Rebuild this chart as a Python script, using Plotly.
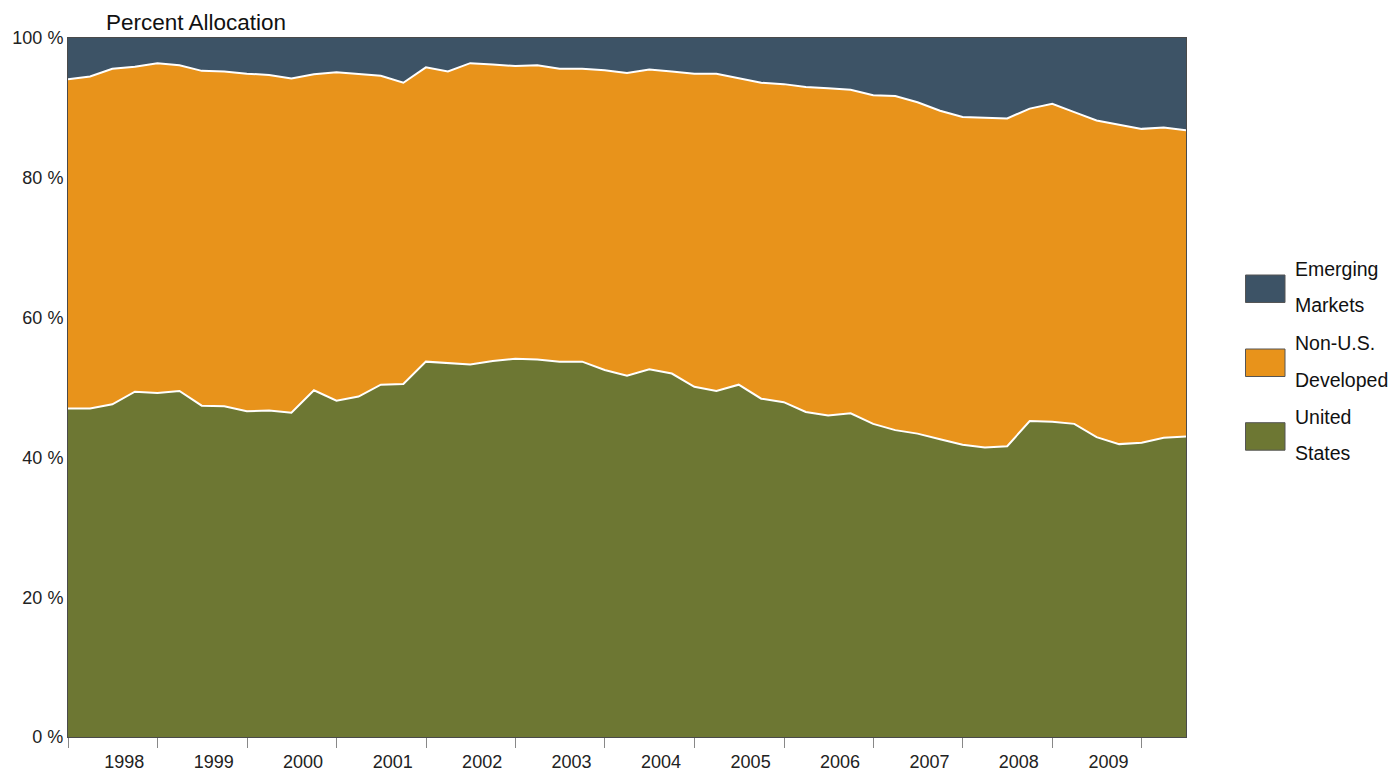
import pandas as pd
import plotly.graph_objects as go

# Quarter-end dates (Dec 1997 .. Jun 2010)
quarters = [d.strftime("%Y-%m-%d") for d in pd.date_range("1997-12-31", "2010-06-30", freq="QE")]

# Percent allocation per region
us = [47.0, 47.0, 47.6, 49.4, 49.2, 49.5, 47.4, 47.3, 46.6, 46.7, 46.4, 49.6, 48.1, 48.7, 50.4, 50.5,
      53.7, 53.5, 53.3, 53.8, 54.1, 54.0, 53.7, 53.7, 52.5, 51.7, 52.6, 52.0, 50.1, 49.5, 50.4, 48.4,
      47.9, 46.5, 46.0, 46.3, 44.8, 43.9, 43.4, 42.6, 41.8, 41.4, 41.6, 45.2, 45.1, 44.8, 42.9, 41.9,
      42.1, 42.8, 43.0]
non_us_dev = [47.1, 47.5, 48.0, 46.5, 47.2, 46.6, 47.9, 47.9, 48.3, 48.0, 47.8, 45.2, 47.0, 46.1, 44.2, 43.1,
              42.1, 41.7, 43.1, 42.4, 41.9, 42.1, 41.9, 41.9, 42.9, 43.3, 42.9, 43.2, 44.8, 45.4, 43.8, 45.2,
              45.5, 46.5, 46.8, 46.3, 47.0, 47.8, 47.4, 47.0, 46.9, 47.2, 46.9, 44.7, 45.5, 44.6, 45.3, 45.7,
              44.9, 44.4, 43.8]
emerging = [5.9, 5.5, 4.4, 4.1, 3.6, 3.9, 4.7, 4.8, 5.1, 5.3, 5.8, 5.2, 4.9, 5.2, 5.4, 6.4,
            4.2, 4.8, 3.6, 3.8, 4.0, 3.9, 4.4, 4.4, 4.6, 5.0, 4.5, 4.8, 5.1, 5.1, 5.8, 6.4,
            6.6, 7.0, 7.2, 7.4, 8.2, 8.3, 9.2, 10.4, 11.3, 11.4, 11.5, 10.1, 9.4, 10.6, 11.8, 12.4,
            13.0, 12.8, 13.2]

year_ticks = [f"{y}-01-01" for y in range(1998, 2011)]
year_labels = [str(y) for y in range(1998, 2010)] + [""]
y_ticks = [0, 20, 40, 60, 80, 100]
y_labels = ["0 %", "20 %", "40 %", "60 %", "80 %", "100 %"]

series_names = ["United States", "Non-U.S. Developed", "Emerging Markets"]
legend_lines = [["United", "States"], ["Non-U.S.", "Developed"], ["Emerging", "Markets"]]
colors = ["#6d7733", "#e8931b", "#3d5366"]

FONT = "Liberation Sans, Arial, sans-serif"

fig = go.Figure()
for name, vals, col, lw in zip(series_names, [us, non_us_dev, emerging], colors, [2, 2, 0]):
    fig.add_trace(go.Scatter(
        x=quarters, y=vals, name=name, stackgroup="one", mode="lines",
        line=dict(color="white", width=lw), fillcolor=col, showlegend=False,
    ))

# Manual legend (boxes + two-line labels), placed in paper coordinates
L, R, T, B = 68, 1186, 38, 737
W, H = R - L, B - T
def px(x):
    return (x - L) / W
def py(y):
    return (B - y) / H

box_tops = [422.7, 349, 275]  # US, Dev, EM
text_centers = [[417, 453], [343, 380], [269, 305]]
for col, top, lines, centers in zip(colors, box_tops, legend_lines, text_centers):
    fig.add_shape(type="rect", xref="paper", yref="paper",
                  x0=px(1245.5), x1=px(1285), y0=py(top), y1=py(top + 27.5),
                  fillcolor=col, line=dict(color="#555555", width=1))
    for txt, cy in zip(lines, centers):
        fig.add_annotation(xref="paper", yref="paper", x=px(1293), y=py(cy),
                           xanchor="left", yanchor="middle", text=txt, showarrow=False,
                           font=dict(family=FONT, size=19.5, color="#111111"))

fig.add_annotation(xref="paper", yref="paper", x=px(104), y=py(22), xanchor="left", yanchor="middle",
                   text="Percent Allocation", showarrow=False,
                   font=dict(family=FONT, size=22.5, color="#111111"))

fig.update_layout(
    width=1392, height=776,
    margin=dict(l=L, r=1392 - R, t=T, b=776 - B, autoexpand=False),
    paper_bgcolor="white", plot_bgcolor="white",
    font=dict(family=FONT, size=18, color="#222222"),
    hovermode="x unified",
)
fig.update_xaxes(
    type="date", range=["1997-12-31", "2010-06-30"],
    tickmode="array", tickvals=year_ticks, ticktext=year_labels,
    ticks="outside", ticklen=10, tickcolor="#888888", tickwidth=1,
    ticklabelshift=56, ticklabelstandoff=-2,
    showgrid=False, zeroline=False,
    showline=True, linecolor="#4a4a4a", linewidth=1, mirror=True,
    tickfont=dict(family=FONT, size=18, color="#222222"),
)
fig.update_yaxes(
    range=[0, 100], tickmode="array", tickvals=y_ticks, ticktext=y_labels,
    ticks="", showgrid=False, zeroline=False,
    showline=True, linecolor="#4a4a4a", linewidth=1, mirror=True,
    ticklabelstandoff=0,
    tickfont=dict(family=FONT, size=18, color="#222222"),
)

fig.write_html("out.html", post_script="document.body.style.margin='0';",
               config={"displayModeBar": False})
